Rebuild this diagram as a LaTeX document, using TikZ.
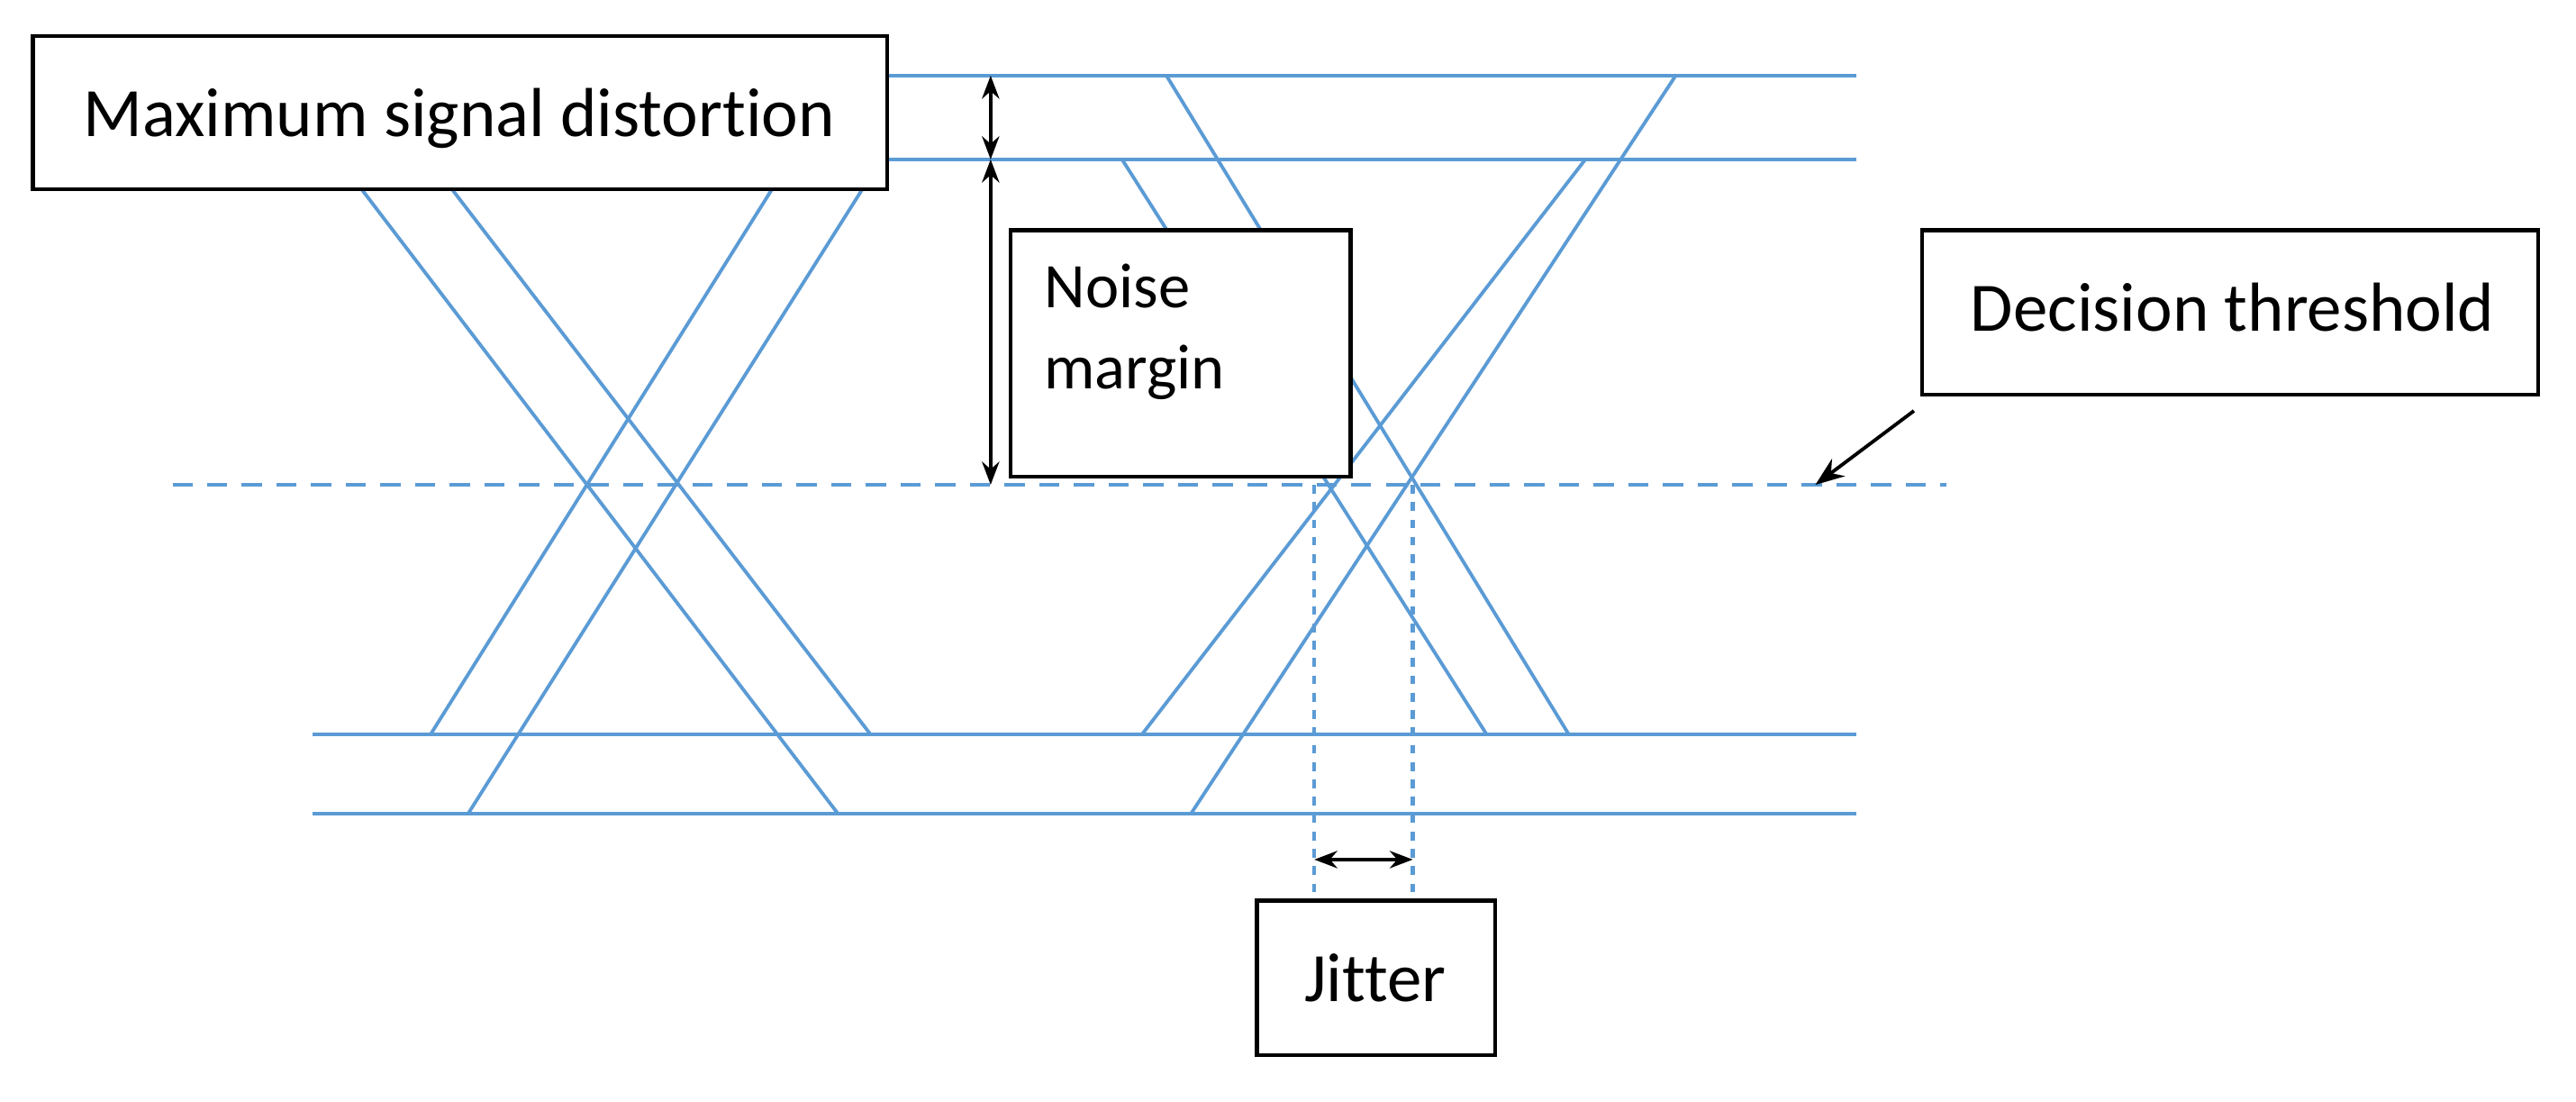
\documentclass[tikz,border=0pt]{standalone}
\usepackage{fontspec}
\setmainfont{Carlito}[Ligatures={NoCommon}]
\usetikzlibrary{arrows.meta}
\definecolor{eye}{RGB}{91,155,213}
\begin{document}
\begin{tikzpicture}[x=0.01cm,y=-0.01cm,
  eyel/.style={eye,line width=0.6pt},
  box/.style={draw=black,fill=white,line width=0.7pt},
  lbl/.style={font=\fontsize{12}{15}\selectfont,inner sep=0pt},
  dim/.style={black,line width=0.6pt,{Stealth[length=4pt]}-{Stealth[length=4pt]}}]
\useasboundingbox (0,0) rectangle (1568,670);
% horizontal
\draw[eyel] (540,46) -- (1130,46);
\draw[eyel] (540,97) -- (1130,97);
\draw[eyel] (190,447) -- (1130,447);
\draw[eyel] (190,495) -- (1130,495);
\draw[eyel,dash pattern=on 3.5pt off 2.5pt] (105,295) -- (1185,295);
% left X
\draw[eyel] (220,115) -- (510,495);
\draw[eyel] (275,115) -- (530,447);
\draw[eyel] (470,115) -- (262,447);
\draw[eyel] (525,115) -- (285,495);
% right X
\draw[eyel] (1020,46) -- (725,495);
\draw[eyel] (965,97) -- (695,447);
\draw[eyel] (710,46) -- (955,447);
\draw[eyel] (683,97) -- (905,447);
% boxes
\path[box] (20,22) rectangle (540,115);
\node[lbl,anchor=west] (msdt) at (50,72) {Maximum signal distortion};
\path[box] (615,140) rectangle (822,290);
\node[font=\fontsize{11}{14}\selectfont,inner sep=0pt,align=left,anchor=north west] (nm) at (635,160) {Noise\\margin};
\path[box] (1170,140) rectangle (1545,240);
\node[lbl] (dt) at (1359,187) {Decision threshold};
\path[box] (765,548) rectangle (910,642);
\node[lbl] (jt) at (837,595) {Jitter};
% dims
\coordinate (a1) at (603,46); \coordinate (a2) at (603,97); \coordinate (a3) at (603,295);
\draw[dim] (a1) -- (a2);
\draw[dim] (a2) -- (a3);
\draw[eye,line width=0.7pt,dash pattern=on 1.5pt off 1.5pt] (800,295) -- (800,548);
\draw[eye,line width=0.7pt,dash pattern=on 1.5pt off 1.5pt] (860,295) -- (860,548);
\coordinate (j1) at (800,523); \coordinate (j2) at (860,523);
\draw[dim] (j1) -- (j2);
\coordinate (d1) at (1165,250); \coordinate (d2) at (1105,295);
\draw[black,line width=0.6pt,-{Stealth[length=5pt]}] (d1) -- (d2);
\end{tikzpicture}
\end{document}
